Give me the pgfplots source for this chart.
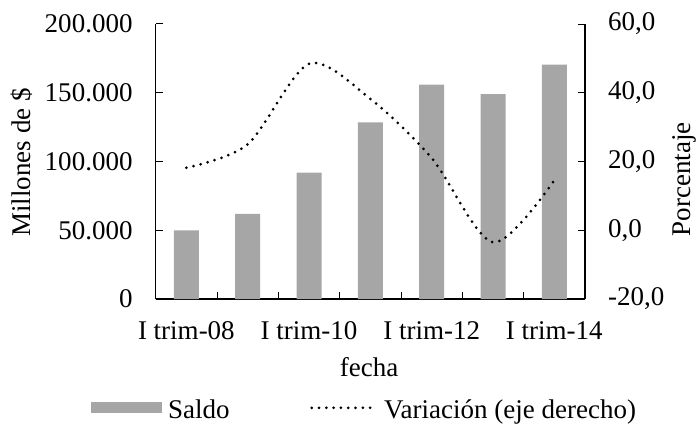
\documentclass[border=0pt]{standalone}
\usepackage{pgfplots}
\pgfplotsset{compat=1.18}
\usepackage{fontspec}
\setmainfont{Liberation Serif}
\definecolor{bargray}{RGB}{166,166,166}

\pgfplotstableread{
x saldo var
0 50000 18.2
1 62000 25.0
2 92000 48.4
3 128500 38.2
4 156000 21.0
5 149000 -3.5
6 170500 14.6
}\datos

\begin{document}
\fontsize{27bp}{32bp}\selectfont
\begin{tikzpicture}[x=1bp,y=1bp]
\useasboundingbox (0,0) rectangle (697,424);
\pgfplotsset{
  base/.style={
    at={(155.7bp,125bp)}, anchor=south west,
    scale only axis, width=429.3bp, height=275bp,
    xmin=-0.5, xmax=6.5,
    tick align=inside,
    /pgf/number format/assume math mode=true,
    axis line style={line width=1.2bp},
    every tick/.style={black, line width=1bp},
    major tick length=7bp, minor tick length=7bp,
  }
}
\begin{axis}[base,
  axis y line*=left, axis x line*=bottom,
  ymin=0, ymax=200000,
  ytick={0,50000,100000,150000,200000},
  scaled y ticks=false,
  yticklabel style={anchor=east, inner sep=0pt, xshift=-23bp,
    /pgf/number format/.cd, fixed, precision=0, 1000 sep={.}},
  xtick={0,2,4,6},
  xticklabels={I trim-08,I trim-10,I trim-12,I trim-14},
  minor xtick={0.5,1.5,2.5,3.5,4.5,5.5},
  major x tick style={draw=none},
  xticklabel style={anchor=base, inner sep=0pt, yshift=-40bp},
  xlabel={fecha},
  every axis x label/.style={at={(axis description cs:0.497,-0.28)}, anchor=base},
  ylabel={Millones de \$},
  every axis y label/.style={at={(axis description cs:-0.311,0.497)}, anchor=center, rotate=90},
  legend columns=2,
  legend style={draw=none, fill=none, inner sep=0pt,
    at={(axis description cs:-0.1507,-0.407)}, anchor=west,
    nodes={inner sep=0pt, anchor=base west},
    /tikz/every odd column/.append style={column sep=6bp},
    /tikz/every even column/.append style={column sep=80bp}},
]
\addplot[ybar, bar width=25bp, fill=bargray, draw=none,
  legend image code/.code={\path[draw=none, fill=none] (0bp,0bp) rectangle (71bp,16bp);
    \fill[bargray] (0bp,5bp) rectangle (71bp,16bp);}]
  table[x=x, y=saldo] {\datos};
\addlegendentry{Saldo}
\addlegendimage{legend image code/.code={\path[draw=none, fill=none] (0bp,0bp) rectangle (67bp,16bp);
    \draw[black, line width=3bp, line cap=round, dash pattern=on 0pt off 7.3bp] (2bp,10.5bp) -- (67bp,10.5bp);}}
\addlegendentry{Variación (eje derecho)}
\end{axis}
\begin{axis}[base,
  axis y line*=right, axis x line=none,
  ymin=-20, ymax=60,
  ytick={-20,0,20,40,60},
  yticklabel style={anchor=west, inner sep=0pt, xshift=23bp,
    /pgf/number format/.cd, fixed, fixed zerofill, precision=1, use comma},
  ylabel={Porcentaje},
  every axis y label/.style={at={(axis description cs:1.2306,0.436)}, anchor=center, rotate=90},
]
\addplot[black, line width=3bp, line cap=round, dash pattern=on 0pt off 7.3bp,
  smooth, tension=0.5]
  table[x=x, y=var] {\datos};
\end{axis}
\end{tikzpicture}
\end{document}
